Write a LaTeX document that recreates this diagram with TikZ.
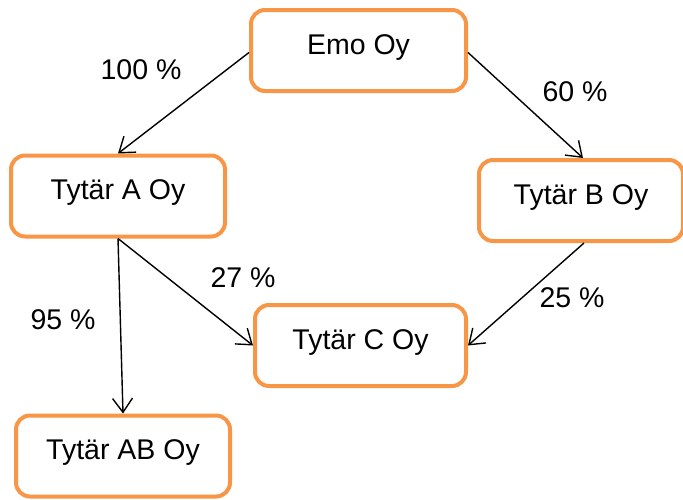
\documentclass[tikz,border=0pt]{standalone}
\usepackage{fontspec}
\setmainfont{Liberation Sans}
\usetikzlibrary{arrows.meta,calc}
\definecolor{boxorange}{HTML}{F79646}
\tikzset{
  orgbox/.style={draw=boxorange, line width=4pt, rounded corners=14pt, fill=white,
    inner sep=0pt, text height=44pt, text depth=37pt, minimum height=81pt,
    font=\fontsize{28.5}{31}\selectfont, align=center},
  pct/.style={font=\fontsize{28.5}{31}\selectfont, inner sep=0pt},
  own/.style={draw=black, line width=1.4pt, -{Straight Barb[length=14pt,width=20pt,line width=1.4pt]}}
}
\begin{document}
\begin{tikzpicture}[x=1pt,y=-1pt]
\useasboundingbox (0,0) rectangle (683,499);
\node[orgbox, minimum width=215pt] (emo) at (358.5,50.5) {Emo Oy};
\node[orgbox, minimum width=214pt] (a) at (118,196) {Tytär A Oy};
\node[orgbox, minimum width=204pt] (b) at (581,200.5) {Tytär B Oy};
\node[orgbox, minimum width=211pt] (c) at (360.5,345.5) {Tytär C Oy};
\node[orgbox, minimum width=214pt] (ab) at (123,456) {Tytär AB Oy};
\draw[own] ($(emo.west)+(0,2)$) -- (a.north);
\draw[own] ($(emo.east)+(0,2)$) -- ($(b.north)+(2,0)$);
\draw[own] (a.south) -- (ab.north);
\draw[own] (a.south) -- (c.west);
\draw[own] ($(b.south)+(3,0)$) -- (c.east);
\node[pct] (p100) at (141,70) {100 \%};
\node[pct] (p60) at (575,92) {60 \%};
\node[pct] (p27) at (243,278) {27 \%};
\node[pct] (p95) at (63,320) {95 \%};
\node[pct] (p25) at (572,298) {25 \%};
\end{tikzpicture}
\end{document}
